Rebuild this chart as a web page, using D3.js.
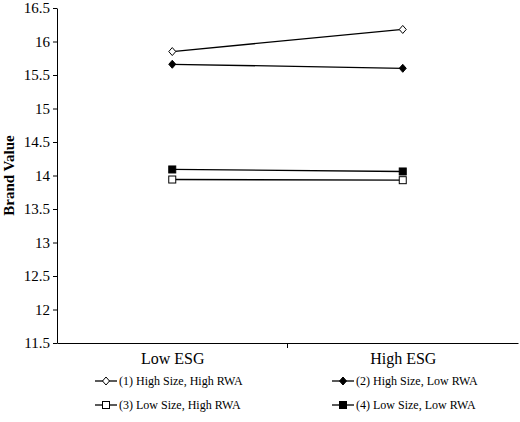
<!DOCTYPE html>
<html><head><meta charset="utf-8">
<script src="https://cdn.jsdelivr.net/npm/d3@7"></script>
<style>body{margin:0;background:#fff}text{font-family:"Liberation Serif",serif}</style>
</head><body><svg width="520" height="422"></svg>
<script>
const categories = ["Low ESG", "High ESG"];
const yTicks = [11.5,12,12.5,13,13.5,14,14.5,15,15.5,16,16.5];
const seriesNames = ["(1) High Size, High RWA","(2) High Size, Low RWA","(3) Low Size, High RWA","(4) Low Size, Low RWA"];
const s1 = [15.85, 16.18];
const s2 = [15.66, 15.60];
const s3 = [13.94, 13.93];
const s4 = [14.09, 14.06];
const markers = [["diamond",false],["diamond",true],["square",false],["square",true]];

const svg = d3.select("svg");
const L = 57, R = 518, T = 8, B = 343;
const x = d3.scalePoint().domain(categories).range([L, R]).padding(0.5);
const y = d3.scaleLinear().domain([11.5, 16.5]).range([B, T]);

svg.append("g").attr("transform", `translate(${L},0)`)
  .call(d3.axisLeft(y).tickValues(yTicks).tickFormat(d3.format("")).tickSize(4).tickSizeOuter(0))
  .call(g => g.selectAll("text").attr("font-size", 15).attr("fill", "#000"))
  .call(g => g.selectAll("line,path").attr("stroke", "#000"));
const xb = d3.scaleBand().domain(categories).range([L, R]);
svg.append("g").attr("transform", `translate(0,${B})`)
  .call(d3.axisBottom(x).tickSize(0).tickPadding(10))
  .call(g => g.selectAll("text").attr("font-size", 16).attr("fill", "#000"))
  .call(g => g.select("path").attr("stroke", "#000"));
svg.append("line").attr("x1", xb.bandwidth() + L).attr("x2", xb.bandwidth() + L)
  .attr("y1", B).attr("y2", B + 5).attr("stroke", "#000");

svg.append("text").attr("transform", `translate(14,${(T + B) / 2}) rotate(-90)`)
  .attr("text-anchor", "middle").attr("font-size", 15).attr("font-weight", "bold").text("Brand Value");

function marker(g, cx, cy, i) {
  const [shape, filled] = markers[i];
  const fill = filled ? "#000" : "#fff";
  if (shape === "diamond")
    g.append("path").attr("d", `M${cx},${cy-4}L${cx+3.5},${cy}L${cx},${cy+4}L${cx-3.5},${cy}Z`)
      .attr("fill", fill).attr("stroke", "#000").attr("stroke-width", 1);
  else
    g.append("rect").attr("x", cx - 3.5).attr("y", cy - 3.5).attr("width", 7).attr("height", 7)
      .attr("fill", fill).attr("stroke", "#000").attr("stroke-width", 1);
}

const line = d3.line().x((d, i) => x(categories[i])).y(d => y(d));
[s1, s2, s3, s4].forEach((s, i) => {
  const g = svg.append("g");
  g.append("path").attr("d", line(s)).attr("fill", "none").attr("stroke", "#000").attr("stroke-width", 1.3);
  s.forEach((v, j) => marker(g, x(categories[j]), y(v), i));
});

const legPos = [[95, 381], [332, 381], [95, 405], [332, 405]];
seriesNames.forEach((n, i) => {
  const [lx, ly] = legPos[i];
  const g = svg.append("g");
  g.append("line").attr("x1", lx).attr("x2", lx + 22).attr("y1", ly).attr("y2", ly).attr("stroke", "#000").attr("stroke-width", 1.3);
  marker(g, lx + 11, ly, i);
  g.append("text").attr("x", lx + 24).attr("y", ly + 4).attr("font-size", 12).text(n);
});
</script></body></html>
